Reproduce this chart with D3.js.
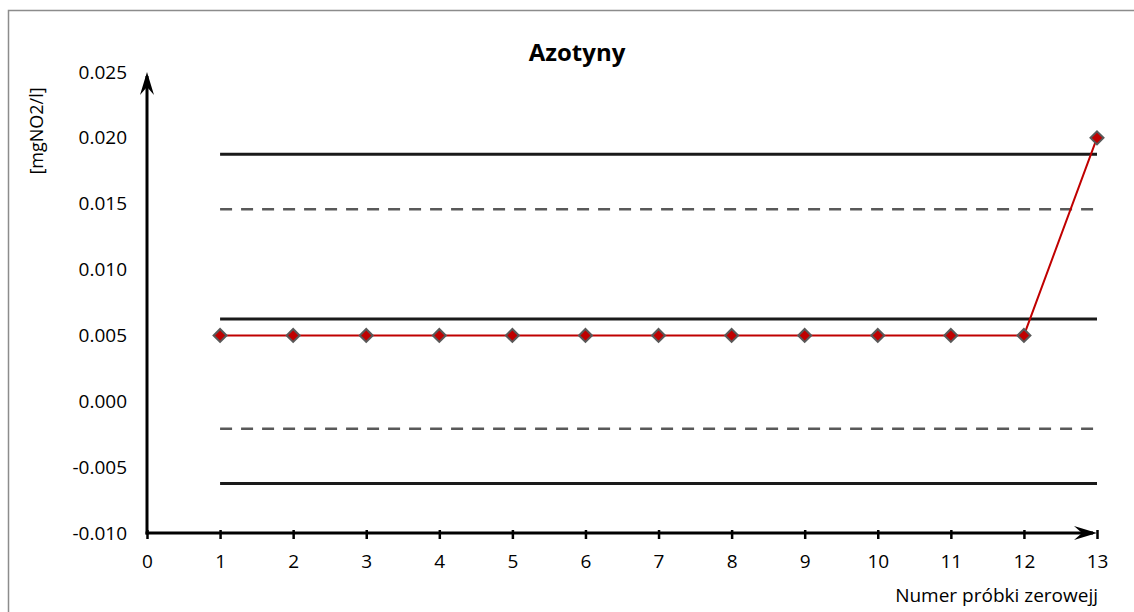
<!DOCTYPE html>
<html><head><meta charset="utf-8">
<script src="https://cdn.jsdelivr.net/npm/d3@7"></script>
<style>html,body{margin:0;padding:0;background:#fff;}svg{display:block;}text{font-family:"Open Sans",sans-serif;}</style>
</head><body>
<svg id="c" width="1134" height="612"></svg>
<script>
const samples = [1,2,3,4,5,6,7,8,9,10,11,12,13];
const values = [0.005,0.005,0.005,0.005,0.005,0.005,0.005,0.005,0.005,0.005,0.005,0.005,0.020];
const actionLimits = [0.01875,0.00625,-0.00625];
const warningLimits = [0.01458,-0.00208];
const yTicks = [-0.010,-0.005,0.000,0.005,0.010,0.015,0.020,0.025];
const xTicks = [0,1,2,3,4,5,6,7,8,9,10,11,12,13];
const title = "Azotyny";
const yLabel = "[mgNO2/l]";
const xLabel = "Numer próbki zerowejj";

const svg = d3.select("#c");
svg.append("rect").attr("x",8.5).attr("y",10.5).attr("width",1130).attr("height",610)
  .attr("fill","#fff").attr("stroke","#8c8c8c").attr("stroke-width",1.5);

const x = d3.scaleLinear().domain([0,13]).range([147,1097]);
const y = d3.scaleLinear().domain([-0.010,0.025]).range([533,72]);

const g = svg.append("g");
g.selectAll(".act").data(actionLimits).join("line")
  .attr("x1",x(1)).attr("x2",x(13)).attr("y1",d=>y(d)).attr("y2",d=>y(d))
  .attr("stroke","#1a1a1a").attr("stroke-width",3);
g.selectAll(".warn").data(warningLimits).join("line")
  .attr("x1",x(1)).attr("x2",x(13)).attr("y1",d=>y(d)).attr("y2",d=>y(d))
  .attr("stroke","#595959").attr("stroke-width",2.5).attr("stroke-dasharray","12,9");

const fmt = d3.format(".3f");
const yAxis = d3.axisLeft(y).tickValues(yTicks).tickSize(0).tickPadding(20).tickFormat(d=>fmt(d).replace("\u2212","-"));
const ya = svg.append("g").attr("transform",`translate(${x(0)},0)`).call(yAxis);
ya.select(".domain").remove();
ya.selectAll("text").attr("font-size",19).attr("fill","#000").attr("font-family","Open Sans");

const xAxis = d3.axisBottom(x).tickValues(xTicks).tickSize(6).tickPadding(16).tickFormat(d3.format("d"));
const xa = svg.append("g").attr("transform",`translate(0,${y(-0.010)})`).call(xAxis);
xa.select(".domain").remove();
xa.selectAll("line").attr("stroke","#000").attr("stroke-width",2.5).attr("y1",-3);
xa.selectAll("text").attr("font-size",19).attr("fill","#000").attr("font-family","Open Sans");

svg.append("line").attr("x1",x(0)).attr("x2",x(0)).attr("y1",y(-0.010)+1.5).attr("y2",y(0.025)+4)
  .attr("stroke","#000").attr("stroke-width",3);
svg.append("line").attr("x1",x(0)-1.5).attr("x2",x(13)-4).attr("y1",y(-0.010)).attr("y2",y(-0.010))
  .attr("stroke","#000").attr("stroke-width",3);
const ax0 = x(0), ay0 = y(0.025);
svg.append("path").attr("d",`M${ax0},${ay0} L${ax0-7},${ay0+23} L${ax0},${ay0+15} L${ax0+7},${ay0+23} Z`).attr("fill","#000");
const bx = x(13), by = y(-0.010);
svg.append("path").attr("d",`M${bx},${by} L${bx-23},${by-7} L${bx-15},${by} L${bx-23},${by+7} Z`).attr("fill","#000");

const data = samples.map((s,i)=>({s,v:values[i]}));
svg.append("path").datum(data).attr("fill","none").attr("stroke","#c00000").attr("stroke-width",2)
  .attr("d",d3.line().x(d=>x(d.s)).y(d=>y(d.v)));
svg.selectAll(".pt").data(data).join("path")
  .attr("transform",d=>`translate(${x(d.s)},${y(d.v)})`)
  .attr("d","M0,-6.5L6.5,0L0,6.5L-6.5,0Z")
  .attr("fill","#c00000").attr("stroke","#595959").attr("stroke-width",2);

svg.append("text").attr("x",577).attr("y",61).attr("text-anchor","middle")
  .attr("font-size",24).attr("font-weight","bold").text(title);
svg.append("text").attr("transform","translate(43,131) rotate(-90)").attr("text-anchor","middle")
  .attr("font-size",18).text(yLabel);
svg.append("text").attr("x",1098).attr("y",602).attr("text-anchor","end")
  .attr("font-size",19).text(xLabel);
</script>
</body></html>
